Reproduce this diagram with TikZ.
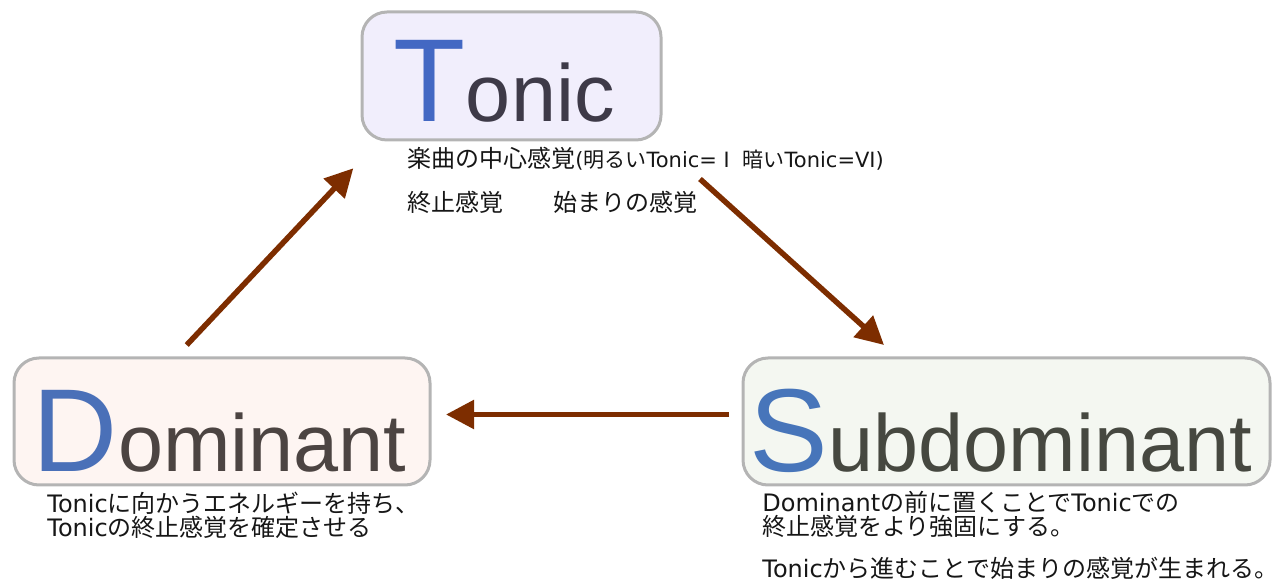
\documentclass[tikz,border=0pt]{standalone}
\usepackage{fontspec}
\setmainfont{Noto Sans CJK JP}
\newfontfamily\titlefont{Liberation Sans}
\newfontfamily\enfont{DejaVu Sans}
\newcommand\en[1]{{\enfont #1}}
\usetikzlibrary{arrows.meta}

\definecolor{flowbrown}{RGB}{125,45,0}
\definecolor{boxgray}{RGB}{180,180,180}
\definecolor{notetext}{RGB}{22,22,22}
\definecolor{tonicfill}{RGB}{241,238,252}
\definecolor{domfill}{RGB}{254,245,242}
\definecolor{subfill}{RGB}{244,247,241}
\definecolor{tonicblue}{RGB}{67,104,195}
\definecolor{domblue}{RGB}{74,112,184}
\definecolor{subblue}{RGB}{71,117,186}
\definecolor{tonicgray}{RGB}{62,58,72}
\definecolor{domgray}{RGB}{76,68,66}
\definecolor{subgray}{RGB}{70,72,64}

\newcommand\headline[3]{{\color{#1}\fontsize{59}{59}\selectfont #2}{\fontsize{40.5}{40.5}\selectfont #3}}

\tikzset{
  box/.style={draw=boxgray, line width=1.5pt, rounded corners=12.5pt},
  title/.style={anchor=base west, inner sep=0pt, font=\titlefont},
  note/.style={anchor=base west, inner sep=0pt, align=left, text=notetext,
    font=\fontsize{12}{12}\selectfont},
  flow/.style={draw=flowbrown, line width=2.75pt, -{Triangle[length=14pt,width=14pt]}},
}

\begin{document}
\begin{tikzpicture}[x=0.5pt, y=-0.5pt]
    \useasboundingbox (0,0) rectangle (1272,581);

    \node[box, fill=tonicfill, minimum width=149.5pt, minimum height=64pt] (tonic) at (511.5,76) {};
    \node[box, fill=domfill, minimum width=208pt, minimum height=63.5pt] (dom) at (222,421.5) {};
    \node[box, fill=subfill, minimum width=263.5pt, minimum height=63.5pt] (sub) at (1006.5,421.5) {};

    \node[title, text=tonicgray] (tonic-title) at (393.5,121.7) {\headline{tonicblue}{T}{onic}};
    \node[title, text=domgray] (dom-title) at (32.5,471.7) {\headline{domblue}{D}{ominant}};
    \node[title, text=subgray] (sub-title) at (749.5,471.7) {\headline{subblue}{S}{ubdominant}};

    \node[note] (tonic-note) at (407,168) {楽曲の中心感覚{\fontsize{10.5}{12}\selectfont\en{(}明るい\en{Tonic=}Ⅰ\ 暗い\en{Tonic=VI)}}};
    \node[note] (tonic-note2) at (407,212) {終止感覚\hspace{2.1em}始まりの感覚};
    \node[note] (dom-note) at (47,536.7) {\en{Tonic}に向かうエネルギーを持ち、\\\en{Tonic}の終止感覚を確定させる};
    \node[note] (sub-note) at (762,535.5) {\en{Dominant}の前に置くことで\en{Tonic}での\\終止感覚をより強固にする。};
    \node[note] (sub-note2) at (762,577) {\en{Tonic}から進むことで始まりの感覚が生まれる。};

    \coordinate (dom-out) at (186.7,345);
    \coordinate (tonic-in) at (353.3,168.3);
    \coordinate (tonic-out) at (700,179);
    \coordinate (sub-in) at (884,345);
    \coordinate (sub-out) at (729,414.5);
    \coordinate (dom-in) at (446,414.5);

    \draw[flow] (dom-out) -- (tonic-in);
    \draw[flow] (tonic-out) -- (sub-in);
    \draw[flow] (sub-out) -- (dom-in);
\end{tikzpicture}
\end{document}
